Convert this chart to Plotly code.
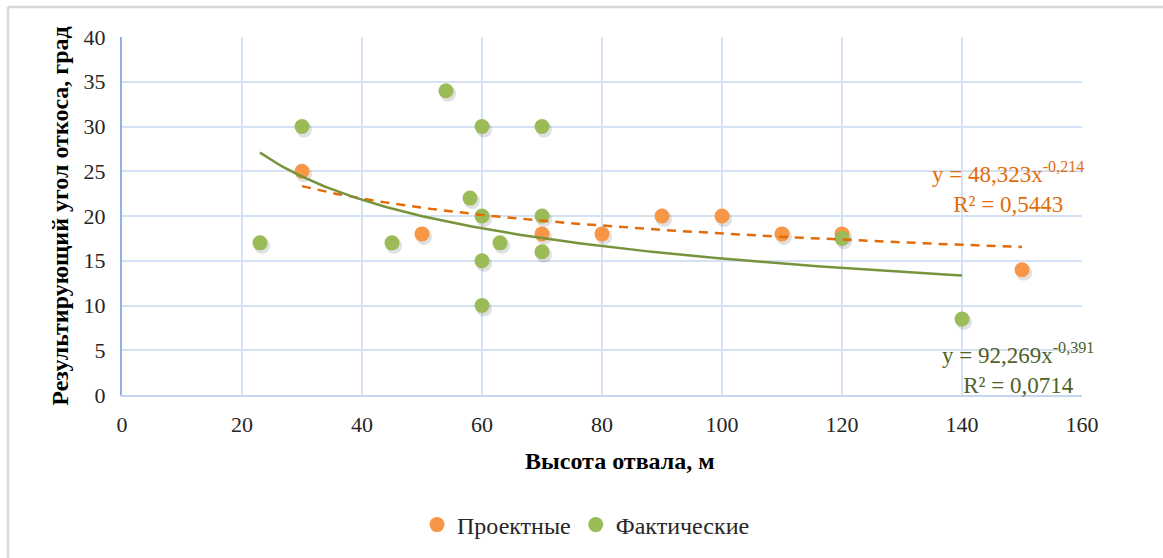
import numpy as np
import plotly.graph_objects as go

# Project slope angles vs. dump height
proj_x = [30, 50, 70, 80, 90, 100, 110, 120, 150]
proj_y = [25, 18, 18, 18, 20, 20, 18, 18, 14]

# Actual (measured) slope angles vs. dump height
fact_x = [23, 30, 45, 54, 58, 60, 60, 60, 60, 63, 70, 70, 70, 120, 140]
fact_y = [17, 30, 17, 34, 22, 30, 20, 15, 10, 17, 30, 20, 16, 17.5, 8.5]

# Power-law trendline coefficients (y = a * x^b)
proj_a, proj_b = 48.323, -0.214
fact_a, fact_b = 92.269, -0.391

x_ticks = [0, 20, 40, 60, 80, 100, 120, 140, 160]
y_ticks = [0, 5, 10, 15, 20, 25, 30, 35, 40]

W, H = 1163, 558
L, R, T, B = 122, 81, 37, 162

ORANGE = "#f79646"
GREEN = "#9bbb59"
ORANGE_LINE = "#e36c09"
GREEN_LINE = "#77933c"
GRID = "#d5e2f3"
FONT = "Liberation Serif"

pw, ph = W - L - R, H - T - B
# shadow offset: ~2 px right, ~3 px down
sdx = 2 * 160 / pw
sdy = -3 * 40 / ph

fig = go.Figure()

# Soft marker shadows
all_x = np.array(proj_x + fact_x, dtype=float)
all_y = np.array(proj_y + fact_y, dtype=float)
fig.add_trace(go.Scatter(x=all_x + sdx, y=all_y + sdy, mode="markers",
                         marker=dict(size=16, color="rgba(60,60,60,0.16)", line=dict(width=0)),
                         showlegend=False, hoverinfo="skip"))

fig.add_trace(go.Scatter(x=proj_x, y=proj_y, mode="markers", name="Проектные",
                         marker=dict(size=15, color=ORANGE, line=dict(width=0))))
fig.add_trace(go.Scatter(x=fact_x, y=fact_y, mode="markers", name="Фактические",
                         marker=dict(size=15, color=GREEN, line=dict(width=0))))

# Trendlines
tx_p = np.linspace(min(proj_x), max(proj_x), 200)
tx_f = np.linspace(min(fact_x), max(fact_x), 200)
fig.add_trace(go.Scatter(x=tx_p, y=proj_a * tx_p ** proj_b, mode="lines",
                         line=dict(color=ORANGE_LINE, width=2.5, dash="9px,7px"),
                         showlegend=False, hoverinfo="skip"))
fig.add_trace(go.Scatter(x=tx_f, y=fact_a * tx_f ** fact_b, mode="lines",
                         line=dict(color=GREEN_LINE, width=2.5),
                         showlegend=False, hoverinfo="skip"))

def eq_text(a, b, r2):
    fa = f"{a:.3f}".replace(".", ",")
    fb = f"{b:.3f}".replace(".", ",")
    fr = f"{r2:.4f}".replace(".", ",")
    return f"y = {fa}x<sup>{fb}</sup><br>R² = {fr}"

fig.add_annotation(x=147.6, y=23.2, xref="x", yref="y", text=eq_text(proj_a, proj_b, 0.5443),
                   showarrow=False, font=dict(family=FONT, size=23, color=ORANGE_LINE),
                   align="center", yanchor="middle")
fig.add_annotation(x=149.4, y=3.0, xref="x", yref="y", text=eq_text(fact_a, fact_b, 0.0714),
                   showarrow=False, font=dict(family=FONT, size=23, color="#4f6228"),
                   align="center", yanchor="middle")

# X-axis title
fig.add_annotation(x=(620 - L) / pw, y=-(462 - (H - B)) / ph, xref="paper", yref="paper",
                   text="<b>Высота отвала, м</b>", showarrow=False,
                   font=dict(family=FONT, size=24, color="black"),
                   xanchor="center", yanchor="middle")

# Outer chart frame (left and top edges)
fx0 = (8 - L) / pw
fy0 = (H - B - 7) / ph
fig.add_shape(type="line", xref="paper", yref="paper", x0=fx0, x1=fx0, y0=fy0, y1=-(B + 10) / ph,
              line=dict(color="#d9d9d9", width=2.5))
fig.add_shape(type="line", xref="paper", yref="paper", x0=fx0, x1=(W - L + 10) / pw, y0=fy0, y1=fy0,
              line=dict(color="#d9d9d9", width=2.5))

fig.update_layout(
    width=W, height=H,
    margin=dict(l=L, r=R, t=T, b=B),
    paper_bgcolor="white", plot_bgcolor="white",
    font=dict(family=FONT, size=22, color="#262626"),
    showlegend=True,
    legend=dict(orientation="h", x=(586 - L) / pw, xanchor="center", y=-(525 - (H - B)) / ph,
                yanchor="middle",
                font=dict(family=FONT, size=24, color="#262626"),
                itemwidth=30, tracegroupgap=0),
    xaxis=dict(range=[0, 160], tickvals=x_ticks, showgrid=True, gridcolor=GRID, gridwidth=1.5,
               zeroline=False, showline=True, linecolor="#c5d7ee", linewidth=2,
               ticks="", ticklabelstandoff=9,
               tickfont=dict(family=FONT, size=22, color="#262626")),
    yaxis=dict(range=[0, 40], tickvals=y_ticks, showgrid=True, gridcolor=GRID, gridwidth=1.5,
               zeroline=False, showline=True, linecolor="#8db3e2", linewidth=2,
               ticks="", ticklabelstandoff=10,
               tickfont=dict(family=FONT, size=22, color="#262626"),
               title=dict(text="<b>Результирующий угол откоса, град</b>",
                          font=dict(family=FONT, size=24, color="black"), standoff=8)),
)

fig.write_html("out.html")
